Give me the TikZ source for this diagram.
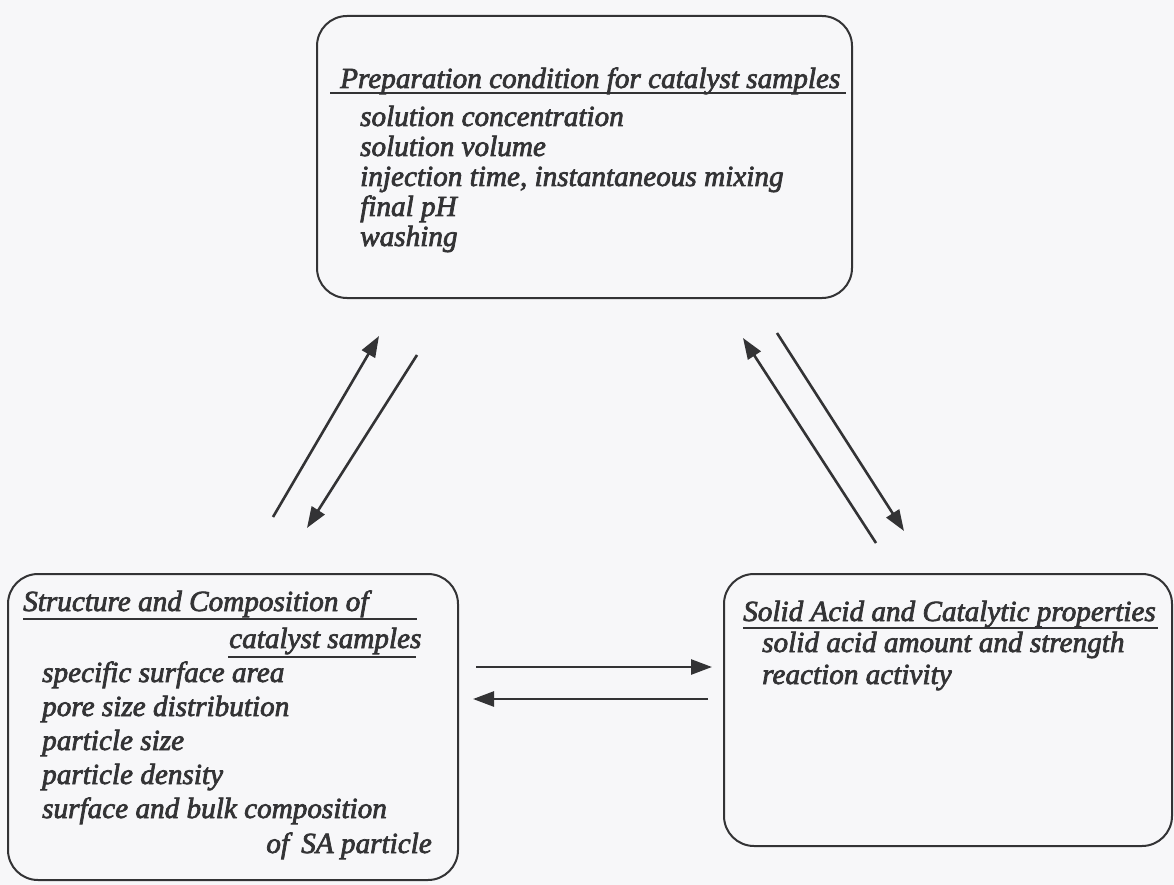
\documentclass[tikz,border=0pt]{standalone}
\usepackage{fontspec}
\setmainfont{Liberation Serif}[ItalicFeatures={FakeBold=2.5}]
\usetikzlibrary{arrows.meta}
\definecolor{ink}{HTML}{333335}
\definecolor{bg}{HTML}{F7F7F9}
\begin{document}
\begin{tikzpicture}[x=1pt,y=-1pt,
  box/.style={draw=ink, line width=2pt, rounded corners=30pt, inner sep=0pt, anchor=north west},
  txt/.style={anchor=base west, inner sep=0pt, text=ink, font=\fontsize{29.2}{30}\selectfont\itshape},
  uline/.style={draw=ink, line width=2pt},
  arr/.style={draw=ink, line width=2.6pt, -{Triangle[length=21pt,width=15pt]}}]
\fill[bg] (0,0) rectangle (1174,885);
\useasboundingbox (0,0) rectangle (1174,885);
% boxes
\node[box, minimum width=535pt, minimum height=282pt] (prep) at (316,15) {};
\node[box, minimum width=450pt, minimum height=306pt] (struct) at (7,573) {};
\node[box, minimum width=448pt, minimum height=272pt] (acid) at (723,573) {};
% top box text
\node[txt] (pt) at (340,88) {Preparation condition for catalyst samples};
\draw[uline] (330,93) -- (846,93);
\node[txt] (p1) at (360,126) {solution concentration};
\node[txt] (p2) at (360,156) {solution volume};
\node[txt] (p3) at (360,186) {injection time, instantaneous mixing};
\node[txt] (p4) at (360,216) {final pH};
\node[txt] (p5) at (360,246) {washing};
% left box text
\node[txt] (st1) at (23,611) {Structure and Composition of};
\draw[uline] (23,619) -- (417,619);
\node[txt] (st2) at (229,648) {catalyst samples};
\draw[uline] (228,657) -- (416,657);
\node[txt] (s1) at (42,682) {specific surface area};
\node[txt] (s2) at (42,716) {pore size distribution};
\node[txt] (s3) at (42,750) {particle size};
\node[txt] (s4) at (42,784) {particle density};
\node[txt] (s5) at (42,818) {surface and bulk composition};
\node[txt, anchor=base east] (s6) at (432,853) {of\, SA particle};
% right box text
\node[txt] (at) at (743,621) {Solid Acid and Catalytic properties};
\draw[uline] (743,628) -- (1158,628);
\node[txt] (a1) at (762,652) {solid acid amount and strength};
\node[txt] (a2) at (762,684) {reaction activity};
% arrow end points
\coordinate (l1s) at (273,517);
\coordinate (l1e) at (379,336);
\coordinate (l2s) at (417,355);
\coordinate (l2e) at (307,528);
\coordinate (r1s) at (876,543);
\coordinate (r1e) at (743,338);
\coordinate (r2s) at (777,333);
\coordinate (r2e) at (904,531);
\coordinate (h1s) at (476,667);
\coordinate (h1e) at (712,667);
\coordinate (h2s) at (708,699);
\coordinate (h2e) at (473,699);
\draw[arr] (l1s) -- (l1e);
\draw[arr] (l2s) -- (l2e);
\draw[arr] (r1s) -- (r1e);
\draw[arr] (r2s) -- (r2e);
\draw[arr] (h1s) -- (h1e);
\draw[arr] (h2s) -- (h2e);
\end{tikzpicture}
\end{document}
